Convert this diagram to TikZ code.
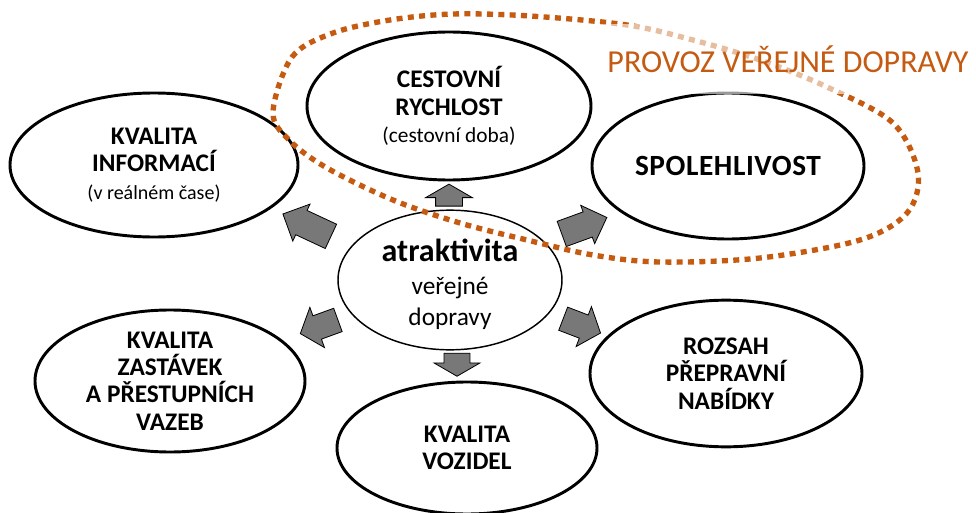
\documentclass[tikz,border=0pt]{standalone}
\usepackage{fontspec}
\setmainfont{Carlito}
\usetikzlibrary{shapes.geometric,shapes.arrows}
\definecolor{arancio}{RGB}{197,90,17}
\definecolor{grigio}{RGB}{120,120,120}

\begin{document}
\begin{tikzpicture}[x=0.75pt,y=0.75pt,
    ovale/.style={ellipse, draw=black, line width=2.2pt, fill=white, inner sep=0pt, align=center,
        font=\fontsize{19}{20.5}\selectfont\bfseries},
    freccia/.style={single arrow, draw=black, line width=0.6pt, fill=grigio, inner xsep=0pt}]
    \useasboundingbox (0,0) rectangle (976,512); % area del disegno

    % ovali attorno al centro
    \node[ovale, minimum width=216pt, minimum height=108pt] (info) at (154,347)
        {KVALITA\\INFORMACÍ\\{\fontsize{15}{18}\selectfont\mdseries (v reálném čase)}};
    \node[ovale, minimum width=213pt, minimum height=111pt] (cest) at (449,406)
        {CESTOVNÍ\\RYCHLOST\\{\fontsize{16}{18}\selectfont\mdseries (cestovní doba)}};
    \node[ovale, minimum width=204pt, minimum height=109.5pt] (spol) at (728,346)
        {\fontsize{22}{24}\selectfont\addfontfeature{LetterSpace=2}SPOLEHLIVOST};
    \node[ovale, minimum width=202.5pt, minimum height=106.5pt] (zast) at (170,131)
        {KVALITA\\ZASTÁVEK\\A PŘESTUPNÍCH\\VAZEB};
    \node[ovale, minimum width=195pt, minimum height=99pt] (voz) at (467,64) {KVALITA\\VOZIDEL};
    \node[ovale, minimum width=204pt, minimum height=110pt] (rozsah) at (726,138.5)
        {ROZSAH\\PŘEPRAVNÍ\\NABÍDKY};

    % ovale centrale
    \node[ellipse, draw=black, line width=1.1pt, fill=white, inner sep=0pt, align=center,
        minimum width=168pt, minimum height=93pt, font=\fontsize{19}{23.25}\selectfont] (atr) at (450,232)
        {\rule{0pt}{23pt}{\fontsize{24}{24}\selectfont\bfseries atraktivita}\\[1.5pt]veřejné\\dopravy};

    % frecce grigie
    \node[freccia, minimum height=16.5pt, minimum width=34.5pt, inner ysep=9.75pt,
        single arrow head extend=7.5pt, single arrow tip angle=120, rotate=90] (fsu) at (449,313) {};
    \node[freccia, minimum height=17.25pt, minimum width=33.75pt, inner ysep=9.4pt,
        single arrow head extend=7.5pt, single arrow tip angle=120, rotate=-90] (fgiu) at (457,151) {};
    \node[freccia, minimum height=39.75pt, minimum width=30pt, inner ysep=9.75pt,
        single arrow head extend=5.25pt, single arrow tip angle=90, rotate=155] (fsx) at (313,284) {};
    \node[freccia, minimum height=36pt, minimum width=30pt, inner ysep=9.75pt,
        single arrow head extend=5.25pt, single arrow tip angle=90, rotate=20] (fdx) at (578,284) {};
    \node[freccia, minimum height=30pt, minimum width=31.5pt, inner ysep=9pt,
        single arrow head extend=6.75pt, single arrow tip angle=100, rotate=200] (fsxg) at (324,187) {};
    \node[freccia, minimum height=30pt, minimum width=31.5pt, inner ysep=9pt,
        single arrow head extend=6.75pt, single arrow tip angle=100, rotate=-21] (fdxg) at (577,188) {};

    % linea tratteggiata del provoz
    \draw[arancio, line width=4pt, dash pattern=on 4.5pt off 4pt] plot[smooth cycle, tension=0.55] coordinates
        {(273,400) (292,455) (333,479) (390,492) (453,498) (530,496) (627,487) (693,472) (760,452)
         (827,425) (893,389) (918,339) (907,299) (860,272) (760,254) (660,250) (593,257) (527,272)
         (460,289) (393,312) (327,344) (289,372)}; % contorno del gruppo

    \node[fill=white, fill opacity=0.6, text opacity=1, text=arancio, inner sep=0pt,
        minimum width=282pt, minimum height=52pt, font=\fontsize{24}{28}\selectfont] (provoz) at (788,453)
        {PROVOZ VEŘEJNÉ DOPRAVY}; % titolo arancione
\end{tikzpicture}
\end{document}
